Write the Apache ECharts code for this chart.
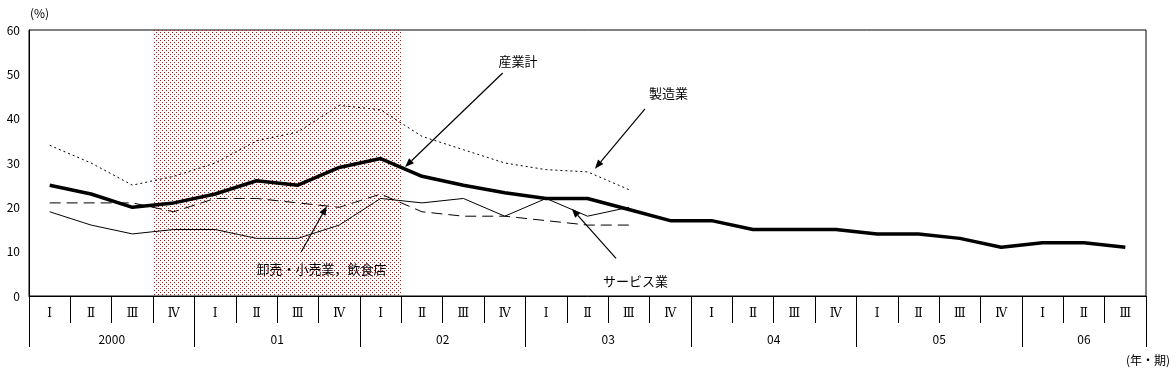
<!DOCTYPE html>
<html><head><meta charset="utf-8">
<script src="https://cdn.jsdelivr.net/npm/echarts@6/dist/echarts.min.js"></script>
<style>html,body{margin:0;padding:0;background:#fff}#c{width:1176px;height:375px}</style>
</head><body><div id="c"></div>
<script>
// ---- data ----
const quarters = ['Ⅰ','Ⅱ','Ⅲ','Ⅳ','Ⅰ','Ⅱ','Ⅲ','Ⅳ','Ⅰ','Ⅱ','Ⅲ','Ⅳ','Ⅰ','Ⅱ','Ⅲ','Ⅳ','Ⅰ','Ⅱ','Ⅲ','Ⅳ','Ⅰ','Ⅱ','Ⅲ','Ⅳ','Ⅰ','Ⅱ','Ⅲ'];
const years = ['2000','01','02','03','04','05','06'];
const yearBounds = [0,4,8,12,16,20,24,27];
const yearCenters = [2,6,10,14,18,22,25.5];
const total = [25,23,20,21,23,26,25,29,31,27,25,23.3,22,22,19.5,17,17,15,15,15,14,14,13,11,12,12,11];
const manufacturing = [34,30,25,27,30,35,37,43,42,36,33,30,28.5,28,24];
const wholesale = [21,21,21,19,22,22,21,20,23,19,18,18,17,16,16];
const services = [19,16,14,15,15,13,13,16,22,21,22,18,22,18,20];
const recession = [3, 9];

// ---- annotations (index units, value units) ----
const notes = [
  {text:'産業計', tip:[8.59,29.1], tail:[10.95,50.3], at:[11.32,53.0]},
  {text:'製造業', tip:[13.18,28.7], tail:[14.39,42.2], at:[14.96,45.8]},
  {text:'サービス業', tip:[12.62,19.7], tail:[13.69,8.5], at:[14.16,3.4]},
  {text:'卸売・小売業，飲食店', tip:[6.70,20.25], tail:[6.08,9.97], at:[6.57,6.0]}
];

const FONT = '"Noto Sans CJK JP", sans-serif';
const pat = document.createElement('canvas');
pat.width = 4; pat.height = 4;
const pc = pat.getContext('2d');
pc.fillStyle = 'rgb(230,0,0)';
pc.fillRect(0,0,1,1); pc.fillRect(2,2,1,1);

const chart = echarts.init(document.getElementById('c'), null, {renderer:'canvas'});
chart.setOption({
  animation:false,
  backgroundColor:'#fff',
  textStyle:{fontFamily:FONT},
  grid:{left:29, right:30, top:30, bottom:79, show:true, borderColor:'#000', borderWidth:1, backgroundColor:'transparent'},
  xAxis:[
    {type:'category', data:quarters, boundaryGap:true, position:'bottom',
     axisLine:{lineStyle:{color:'#000', width:1}},
     axisTick:{show:true, interval:0, length:27, lineStyle:{color:'#000'}},
     axisLabel:{interval:0, color:'#000', fontSize:12, fontFamily:'"DejaVu Serif", serif', margin:12},
     splitLine:{show:false}},
    {type:'value', min:0, max:27, position:'bottom',
     axisLine:{show:false},
     axisTick:{show:true, customValues:yearBounds, length:51, lineStyle:{color:'#000'}},
     axisLabel:{show:true, customValues:yearCenters, color:'#000', fontSize:12, fontFamily:FONT, margin:37,
       formatter:function(v){ const i = yearCenters.indexOf(v); return i>=0 ? years[i] : ''; }},
     splitLine:{show:false}}
  ],
  yAxis:{type:'value', min:0, max:60, interval:10,
    name:'(%)', nameLocation:'end', nameGap:11,
    nameTextStyle:{color:'#000', fontSize:12, fontFamily:FONT, align:'left', padding:[0,0,0,1]},
    axisLine:{show:true, lineStyle:{color:'#000'}},
    axisTick:{show:false},
    axisLabel:{color:'#000', fontSize:12, fontFamily:FONT, margin:9},
    splitLine:{show:false}},
  series:[
    {type:'line', xAxisIndex:1, data:[], z:1, silent:true,
     markArea:{silent:true, itemStyle:{color:{image:pat, repeat:'repeat'}}, data:[[{xAxis:recession[0]},{xAxis:recession[1]}]]}},
    {name:'製造業', type:'line', data:manufacturing, symbol:'none', z:3,
     lineStyle:{color:'#000', width:1, type:[2,3]}},
    {name:'卸売・小売業，飲食店', type:'line', data:wholesale, symbol:'none', z:3,
     lineStyle:{color:'#000', width:1, type:[11,6]}},
    {name:'サービス業', type:'line', data:services, symbol:'none', z:3,
     lineStyle:{color:'#000', width:1}},
    {name:'産業計', type:'line', data:total, symbol:'none', z:4,
     lineStyle:{color:'#000', width:3.5}}
  ]
});

function toPx(p){
  const a = chart.convertToPixel({xAxisIndex:0, yAxisIndex:0}, [0, p[1]]);
  const b = chart.convertToPixel({xAxisIndex:0, yAxisIndex:0}, [1, p[1]]);
  return [a[0] + (b[0]-a[0])*p[0], a[1]];
}
const g = [];
notes.forEach(function(n){
  const t = toPx(n.tip), s = toPx(n.tail), c = toPx(n.at);
  const dx = t[0]-s[0], dy = t[1]-s[1], L = Math.hypot(dx,dy);
  const ux = dx/L, uy = dy/L, hl = 9, hw = 3.5;
  const bx = t[0]-ux*hl, by = t[1]-uy*hl;
  g.push({type:'line', shape:{x1:s[0], y1:s[1], x2:bx, y2:by}, style:{stroke:'#000', lineWidth:1.2}, z:10});
  g.push({type:'polygon', shape:{points:[[t[0],t[1]],[bx-uy*hw, by+ux*hw],[bx+uy*hw, by-ux*hw]]}, style:{fill:'#000'}, z:10});
  g.push({type:'text', x:c[0], y:c[1], style:{text:n.text, fill:'#000', font:'13px '+FONT, align:'center', verticalAlign:'middle'}, z:10});
});
g.push({type:'text', right:6, top:354, style:{text:'(年・期)', fill:'#000', font:'12px '+FONT}, z:10});
chart.setOption({graphic:g});
</script>
</body></html>
